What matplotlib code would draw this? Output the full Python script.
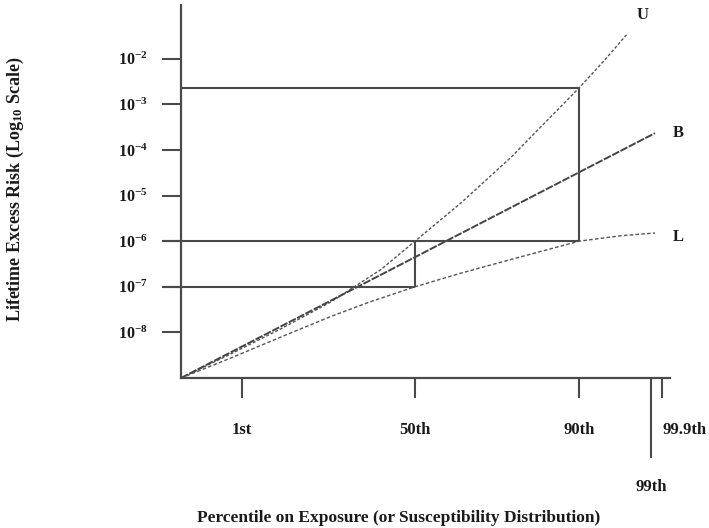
import numpy as np
import matplotlib
matplotlib.use("Agg")
import matplotlib.pyplot as plt
from matplotlib.ticker import FixedLocator, NullLocator, FixedFormatter

# ---------------- data ----------------
# x positions on the (schematic) percentile axis
pct_labels = ["1st", "50th", "90th", "99.9th"]
pct_pos = [61, 234, 398, 481]
pct99_label = "99th"
pct99_pos = 470
x_end = 489

# y axis: log10 risk
ytick_exp = [-2, -3, -4, -5, -6, -7, -8]
y_lo_exp, y_hi_exp = -9.0, -0.82

# upper curve U (log10 risk)
u_x = [0, 50, 100, 150, 200, 234, 280, 330, 398, 424, 446]
u_log = [-9.0, -8.47, -7.92, -7.33, -6.62, -6.0, -5.16, -4.16, -2.64, -2.02, -1.46]
# best estimate B (straight in log space)
b_x = [0, 234, 398, 474]
b_log = [-9.0, -6.35, -4.49, -3.63]
# lower curve L
l_x = [0, 50, 100, 150, 189, 234, 280, 330, 398, 440, 474]
l_log = [-9.0, -8.56, -8.10, -7.65, -7.33, -7.0, -6.7, -6.4, -6.0, -5.88, -5.82]

# box levels (log10 risk)
top_level = -2.64
mid_level = -6.0
low_level = -7.0

curve_names = ["U", "B", "L"]
name_pos = [(462, -1.04), (497, -3.63), (497, -5.91)]

# ---------------- figure ----------------
W, H = 709, 528
fig = plt.figure(figsize=(W / 100, H / 100), dpi=100)
ox, oy = 181, 378
top_px = 5
ax = fig.add_axes([ox / W, (H - oy) / H, x_end / W, (oy - top_px) / H])

FONT = "Liberation Serif"
txt_c = "#1a1a1a"
line_c = "#4a4a4a"

ax.set_yscale("log")
ax.set_xlim(0, x_end)
ax.set_ylim(10 ** y_lo_exp, 10 ** y_hi_exp)

for s in ["top", "right"]:
    ax.spines[s].set_visible(False)
for s in ["left", "bottom"]:
    ax.spines[s].set_color(line_c)
    ax.spines[s].set_linewidth(1.6)

u = 10 ** np.array(u_log)
b = 10 ** np.array(b_log)
l = 10 ** np.array(l_log)

ax.plot(u_x, u, color="#555555", lw=1.0, ls=(0, (2.2, 1.4)), clip_on=False)
ax.plot(b_x, b, color="#444444", lw=1.4, ls=(0, (4, 0.8)), clip_on=False)
ax.plot(l_x, l, color="#555555", lw=1.0, ls=(0, (2.6, 1.6)), clip_on=False)

# box lines
x50, x90 = pct_pos[1], pct_pos[2]
box_kw = dict(color=line_c, lw=1.5, solid_capstyle="butt")
ax.plot([0, x90], [10 ** top_level] * 2, **box_kw)
ax.plot([0, x90], [10 ** mid_level] * 2, **box_kw)
ax.plot([0, x50], [10 ** low_level] * 2, **box_kw)
ax.plot([x90, x90], [10 ** top_level, 10 ** mid_level], **box_kw)
ax.plot([x50, x50], [10 ** mid_level, 10 ** low_level], **box_kw)
# the 10^-6 and 10^-7 lines run out through the tick marks
ax.plot([-19, 0], [10 ** mid_level] * 2, clip_on=False, **box_kw)
ax.plot([-19, 0], [10 ** low_level] * 2, clip_on=False, **box_kw)

# y ticks
ax.yaxis.set_major_locator(FixedLocator([10.0 ** e for e in ytick_exp]))
ax.yaxis.set_minor_locator(NullLocator())
ax.set_yticklabels([r"$\mathregular{10^{%d}}$" % e for e in ytick_exp])
ax.tick_params(axis="y", which="major", length=13.7, width=1.5, color=line_c,
               pad=10, labelsize=11.5, labelcolor=txt_c)
for t in ax.get_yticklabels():
    t.set_fontfamily(FONT)
    t.set_fontweight("bold")

# x ticks
ax.xaxis.set_major_locator(FixedLocator(pct_pos))
ax.set_xticklabels(pct_labels)
ax.xaxis.set_minor_locator(FixedLocator([pct99_pos]))
ax.xaxis.set_minor_formatter(FixedFormatter([pct99_label]))
ax.tick_params(axis="x", which="major", length=14.4, width=1.5, color=line_c,
               pad=17, labelsize=12, labelcolor=txt_c)
ax.tick_params(axis="x", which="minor", length=57.6, width=1.5, color=line_c,
               pad=15, labelsize=12, labelcolor=txt_c)
for t in ax.get_xticklabels() + ax.get_xticklabels(minor=True):
    t.set_fontfamily(FONT)
    t.set_fontweight("bold")
ax.get_xticklabels()[-1].set_horizontalalignment("left")

# curve names
for name, (nx, ny) in zip(curve_names, name_pos):
    ax.text(nx, 10 ** ny, name, family=FONT, weight="bold", fontsize=12,
            color=txt_c, ha="center", va="center", clip_on=False)

# axis titles
fig.text(399 / W, 1 - 518 / H, "Percentile on Exposure (or Susceptibility Distribution)",
         family=FONT, weight="bold", fontsize=12.5, color=txt_c, ha="center", va="center")
fig.text(15 / W, 1 - 189 / H, r"Lifetime Excess Risk (Log$\mathregular{_{10}}$ Scale)",
         family=FONT, weight="bold", fontsize=13, color=txt_c, ha="center", va="center",
         rotation=90)

fig.savefig("out.png", dpi=100)
